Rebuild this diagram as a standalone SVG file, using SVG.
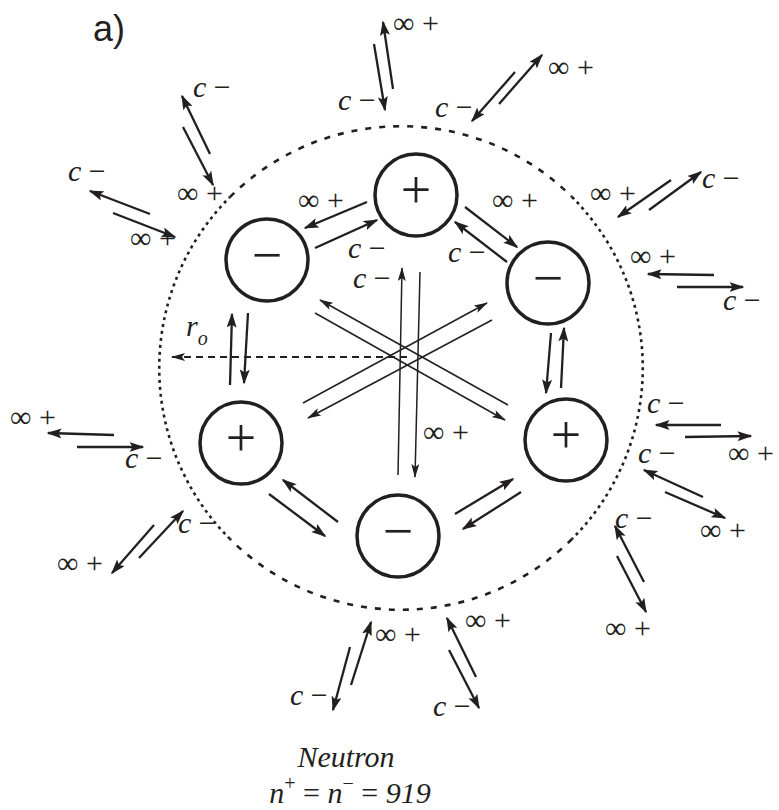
<svg xmlns="http://www.w3.org/2000/svg" width="779" height="810" viewBox="0 0 779 810">
<style>
.lbl{font-family:"Liberation Serif","Times New Roman",serif;font-size:30px;fill:#231f20}
.it{font-style:italic}
.node{fill:none;stroke:#231f20;stroke-width:3.5}
.sign{font-family:"Liberation Serif","Times New Roman",serif;font-size:54px;text-anchor:middle;fill:#231f20}
.a{stroke:#231f20;stroke-width:2.3;marker-end:url(#ah)}
.t{stroke:#231f20;stroke-width:1.5;marker-end:url(#aht)}
.bnd{fill:none;stroke:#231f20;stroke-width:2.6}
</style>
<defs>
<marker id="ah" markerUnits="userSpaceOnUse" markerWidth="16" markerHeight="10" refX="13.5" refY="5" orient="auto" viewBox="0 0 16 10">
<path d="M0,0 L15,5 L0,10 L3,5 Z" fill="#231f20"/>
</marker>
<marker id="aht" markerUnits="userSpaceOnUse" markerWidth="15" markerHeight="9" refX="13" refY="4" orient="auto" viewBox="0 0 15 9">
<path d="M0,0 L14,4 L0,8 L3,4 Z" fill="#231f20"/>
</marker>
</defs>
<rect width="779" height="810" fill="#fff"/>

<g id="boundary">
<path class="bnd" stroke-dasharray="6 8" d="M230,197 A242,242 0 0 1 572,197"/>
<path class="bnd" stroke-dasharray="3 4" d="M572,197 A242,242 0 0 1 572,539"/>
<path class="bnd" stroke-dasharray="6 8" d="M572,539 A242,242 0 0 1 230,539"/>
<path class="bnd" stroke-dasharray="3 4" d="M230,539 A242,242 0 0 1 230,197"/>
</g>

<text x="93" y="41" font-family="'Liberation Sans','Open Sans',sans-serif" font-size="36" fill="#231f20">a)</text>

<g id="node-top-plus"><circle class="node" cx="416" cy="195" r="41"/><text class="sign" x="416" y="208">+</text></g>
<g id="node-ul-minus"><circle class="node" cx="267" cy="260" r="41"/><text class="sign" x="267" y="273">−</text></g>
<g id="node-ur-minus"><circle class="node" cx="548" cy="283" r="41"/><text class="sign" x="548" y="296">−</text></g>
<g id="node-ll-plus"><circle class="node" cx="241" cy="443" r="41"/><text class="sign" x="241" y="456">+</text></g>
<g id="node-lr-plus"><circle class="node" cx="566" cy="440" r="41"/><text class="sign" x="566" y="453">+</text></g>
<g id="node-bottom-minus"><circle class="node" cx="398" cy="536" r="41"/><text class="sign" x="398" y="549">−</text></g>

<g id="connectors">
<line class="a" x1="210" y1="154" x2="182" y2="96"/><line class="a" x1="183" y1="127" x2="213" y2="185"/>
<line class="a" x1="150" y1="214" x2="90" y2="191"/><line class="a" x1="113" y1="213" x2="175" y2="237"/>
<line class="a" x1="393" y1="89" x2="383" y2="22"/><line class="a" x1="374" y1="44" x2="385" y2="110"/>
<line class="a" x1="499" y1="104" x2="542" y2="55"/><line class="a" x1="515" y1="72" x2="472" y2="121"/>
<line class="a" x1="671" y1="180" x2="618" y2="217"/><line class="a" x1="649" y1="210" x2="701" y2="172"/>
<line class="a" x1="714" y1="275" x2="648" y2="274"/><line class="a" x1="677" y1="287" x2="743" y2="287"/>
<line class="a" x1="721" y1="425" x2="656" y2="425"/><line class="a" x1="685" y1="437" x2="751" y2="436"/>
<line class="a" x1="703" y1="497" x2="644" y2="470"/><line class="a" x1="665" y1="492" x2="725" y2="518"/>
<line class="a" x1="644" y1="582" x2="615" y2="526"/><line class="a" x1="617" y1="556" x2="646" y2="612"/>
<line class="a" x1="476" y1="677" x2="447" y2="618"/><line class="a" x1="449" y1="650" x2="479" y2="708"/>
<line class="a" x1="351" y1="685" x2="371" y2="622"/><line class="a" x1="350" y1="647" x2="333" y2="710"/>
<line class="a" x1="154" y1="525" x2="112" y2="573"/><line class="a" x1="139" y1="558" x2="183" y2="511"/>
<line class="a" x1="114" y1="435" x2="48" y2="433"/><line class="a" x1="77" y1="447" x2="143" y2="447"/>
<line class="a" x1="367" y1="202" x2="305" y2="228"/><line class="a" x1="315" y1="248" x2="377" y2="220"/>
<line class="a" x1="465" y1="207" x2="517" y2="247"/><line class="a" x1="507" y1="262" x2="455" y2="222"/>
<line class="a" x1="230" y1="385" x2="232" y2="314"/><line class="a" x1="248" y1="313" x2="244" y2="383"/>
<line class="a" x1="551" y1="333" x2="546" y2="393"/><line class="a" x1="561" y1="388" x2="564" y2="328"/>
<line class="a" x1="338" y1="522" x2="283" y2="480"/><line class="a" x1="269" y1="494" x2="325" y2="536"/>
<line class="a" x1="455" y1="514" x2="513" y2="479"/><line class="a" x1="521" y1="492" x2="463" y2="529"/>
<line class="t" x1="398" y1="475" x2="402" y2="268"/><line class="t" x1="420" y1="272" x2="415" y2="477"/>
<line class="t" x1="508" y1="405" x2="320" y2="300"/><line class="t" x1="315" y1="313" x2="505" y2="420"/>
<line class="t" x1="303" y1="403" x2="487" y2="303"/><line class="t" x1="492" y1="320" x2="308" y2="418"/>
<line stroke="#231f20" stroke-width="2" stroke-dasharray="7 5" x1="407" y1="357" x2="172" y2="357" marker-end="url(#aht)"/>
</g>

<g id="labels">
<text class="lbl" x="193" y="97"><tspan class="it">c</tspan> −</text><text class="lbl" x="177" y="203">∞ +</text>
<text class="lbl" x="68" y="181"><tspan class="it">c</tspan> −</text><text class="lbl" x="130" y="248">∞ +</text>
<text class="lbl" x="393" y="33">∞ +</text><text class="lbl" x="338" y="110"><tspan class="it">c</tspan> −</text>
<text class="lbl" x="548" y="77">∞ +</text><text class="lbl" x="435" y="117"><tspan class="it">c</tspan> −</text>
<text class="lbl" x="590" y="203">∞ +</text><text class="lbl" x="702" y="188"><tspan class="it">c</tspan> −</text>
<text class="lbl" x="630" y="266">∞ +</text><text class="lbl" x="723" y="310"><tspan class="it">c</tspan> −</text>
<text class="lbl" x="647" y="413"><tspan class="it">c</tspan> −</text><text class="lbl" x="728" y="463">∞ +</text>
<text class="lbl" x="638" y="463"><tspan class="it">c</tspan> −</text><text class="lbl" x="700" y="540">∞ +</text>
<text class="lbl" x="615" y="528"><tspan class="it">c</tspan> −</text><text class="lbl" x="605" y="638">∞ +</text>
<text class="lbl" x="465" y="630">∞ +</text><text class="lbl" x="433" y="716"><tspan class="it">c</tspan> −</text>
<text class="lbl" x="375" y="644">∞ +</text><text class="lbl" x="290" y="705"><tspan class="it">c</tspan> −</text>
<text class="lbl" x="57" y="573">∞ +</text><text class="lbl" x="178" y="533"><tspan class="it">c</tspan> −</text>
<text class="lbl" x="10" y="427">∞ +</text><text class="lbl" x="125" y="468"><tspan class="it">c</tspan> −</text>
<text class="lbl" x="298" y="210">∞ +</text><text class="lbl" x="348" y="258"><tspan class="it">c</tspan> −</text>
<text class="lbl" x="492" y="210">∞ +</text><text class="lbl" x="448" y="262"><tspan class="it">c</tspan> −</text>
<text class="lbl" x="353" y="288"><tspan class="it">c</tspan> −</text><text class="lbl" x="423" y="442">∞ +</text>
<text class="lbl it" x="186" y="336" font-size="30">r<tspan font-size="20" dy="9">o</tspan></text>
<text class="lbl it" x="346" y="767" text-anchor="middle">Neutron</text>
<text class="lbl" x="350" y="803" text-anchor="middle" font-size="32"><tspan class="it">n</tspan><tspan font-size="20" dy="-13">+</tspan><tspan dy="13"> = </tspan><tspan class="it">n</tspan><tspan font-size="20" dy="-13">−</tspan><tspan dy="13"> = </tspan><tspan class="it">919</tspan></text>
</g>
</svg>
